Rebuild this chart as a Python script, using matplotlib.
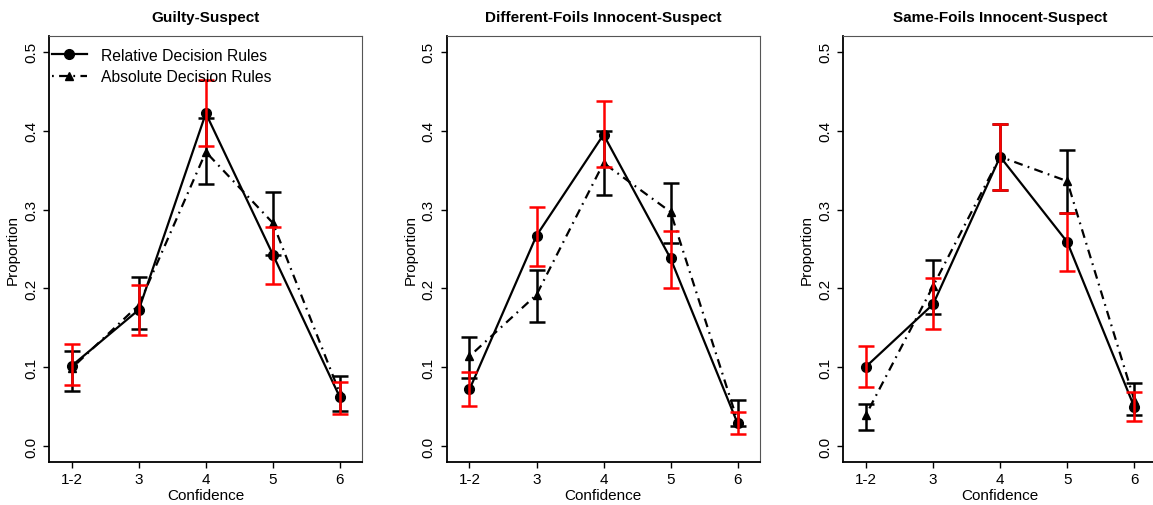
import numpy as np
import matplotlib
matplotlib.use("Agg")
import matplotlib.pyplot as plt

plt.rcParams['font.family'] = ['Liberation Sans', 'DejaVu Sans']

conf_labels = ['1-2', '3', '4', '5', '6']
titles = ['Guilty-Suspect', 'Different-Foils Innocent-Suspect', 'Same-Foils Innocent-Suspect']

# relative decision rules: mean, lower and upper CI bounds
rel_mean = [[0.102, 0.173, 0.422, 0.243, 0.062],
            [0.072, 0.267, 0.395, 0.238, 0.029],
            [0.101, 0.180, 0.367, 0.259, 0.050]]
rel_lo = [[0.077, 0.141, 0.381, 0.206, 0.041],
          [0.051, 0.229, 0.354, 0.201, 0.015],
          [0.075, 0.148, 0.325, 0.222, 0.032]]
rel_hi = [[0.129, 0.205, 0.464, 0.278, 0.082],
          [0.094, 0.303, 0.438, 0.273, 0.043],
          [0.127, 0.213, 0.408, 0.296, 0.069]]

# absolute decision rules
abs_mean = [[0.099, 0.179, 0.373, 0.283, 0.067],
            [0.114, 0.192, 0.359, 0.297, 0.032],
            [0.040, 0.203, 0.367, 0.336, 0.059]]
abs_lo = [[0.070, 0.149, 0.332, 0.243, 0.045],
          [0.087, 0.157, 0.319, 0.257, 0.026],
          [0.021, 0.168, 0.325, 0.296, 0.039]]
abs_hi = [[0.121, 0.215, 0.416, 0.322, 0.089],
          [0.139, 0.223, 0.399, 0.334, 0.058],
          [0.054, 0.236, 0.408, 0.376, 0.080]]

W, H = 1153, 506
fig = plt.figure(figsize=(W / 100, H / 100), dpi=100)
lefts = [49, 446.7, 843.3]
x = np.arange(len(conf_labels))
dotdash = (0, (0.8, 2.4, 4.0, 2.4))

for i, left in enumerate(lefts):
    ax = fig.add_axes([left / W, (H - 463) / H, 313 / W, 426 / H])
    ax.plot(x, rel_mean[i], color='black', lw=1.6, marker='o', ms=7,
            label='Relative Decision Rules', zorder=2)
    ax.plot(x, abs_mean[i], color='black', lw=1.6, ls=dotdash, marker='^', ms=6,
            label='Absolute Decision Rules', zorder=2)

    a_m = np.array(abs_mean[i])
    ax.errorbar(x, a_m, yerr=[a_m - np.array(abs_lo[i]), np.array(abs_hi[i]) - a_m],
                fmt='none', ecolor='black', elinewidth=1.8, capsize=6, capthick=1.8, zorder=3)
    r_m = np.array(rel_mean[i])
    ax.errorbar(x, r_m, yerr=[r_m - np.array(rel_lo[i]), np.array(rel_hi[i]) - r_m],
                fmt='none', ecolor='red', elinewidth=1.8, capsize=6, capthick=1.8, zorder=4)

    ax.set_xlim(-0.34, 4.33)
    ax.set_ylim(-0.02, 0.52)
    ax.set_xticks(x)
    ax.set_xticklabels(conf_labels)
    ax.set_yticks([0.0, 0.1, 0.2, 0.3, 0.4, 0.5])
    ax.set_yticklabels(['0.0', '0.1', '0.2', '0.3', '0.4', '0.5'], rotation=90, va='center')
    ax.tick_params(labelsize=11, length=4, width=1, pad=3)
    ax.tick_params(axis='y', pad=4)
    ax.set_xlabel('Confidence', fontsize=11, labelpad=2)
    ax.set_ylabel('Proportion', fontsize=11, labelpad=3)
    ax.set_title(titles[i], fontsize=11, fontweight='bold', pad=11)
    for s in ['top', 'right']:
        ax.spines[s].set_color('#555555')
    for s in ['left', 'bottom']:
        ax.spines[s].set_color('black')
        ax.spines[s].set_linewidth(1.3)

    if i == 0:
        ax.legend(loc='upper left', bbox_to_anchor=(0.01, 0.972), frameon=False,
                  fontsize=11.3, handlelength=2.2, handletextpad=0.9,
                  labelspacing=0.4, borderaxespad=0.0, borderpad=0.0)

fig.savefig('out.png', dpi=100)
